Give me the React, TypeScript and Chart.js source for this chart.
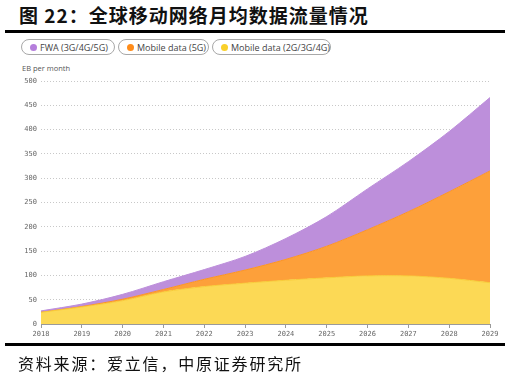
import React, { useEffect, useRef } from "react";
import { Chart, registerables } from "chart.js";

Chart.register(...registerables);

const years = ["2018", "2019", "2020", "2021", "2022", "2023", "2024", "2025", "2026", "2027", "2028", "2029"];
const mobile234 = [24, 35, 48, 66, 77, 84, 90, 95, 99, 99, 94, 85];
const mobile5g = [0, 1, 3, 5, 15, 27, 43, 65, 95, 132, 178, 230];
const fwa = [3, 5, 10, 16, 20, 28, 43, 61, 84, 103, 124, 151];
const yTicks = [0, 50, 100, 150, 200, 250, 300, 350, 400, 450, 500];

const legendItems = [
  { label: "FWA (3G/4G/5G)", color: "#B57EDC", left: 21, width: 94 },
  { label: "Mobile data (5G)", color: "#FF8C1A", left: 118, width: 91 },
  { label: "Mobile data (2G/3G/4G)", color: "#F9D02A", left: 212, width: 119 },
];

export default function App() {
  const ref = useRef<HTMLCanvasElement>(null);
  useEffect(() => {
    if (!ref.current) return;
    const chart = new Chart(ref.current, {
      type: "line",
      data: {
        labels: years,
        datasets: [
          {
            label: "Mobile data (2G/3G/4G)",
            data: mobile234,
            backgroundColor: "#FCD955",
            borderColor: "#F8CC3A",
            borderWidth: 1,
            fill: "origin",
            pointRadius: 0,
            tension: 0.3,
          },
          {
            label: "Mobile data (5G)",
            data: mobile5g,
            backgroundColor: "#FDA03A",
            borderColor: "#FB9426",
            borderWidth: 1,
            fill: "-1",
            pointRadius: 0,
            tension: 0.3,
          },
          {
            label: "FWA (3G/4G/5G)",
            data: fwa,
            backgroundColor: "#BD8FDB",
            borderColor: "#BD8FDB",
            borderWidth: 1,
            fill: "-1",
            pointRadius: 0,
            tension: 0.3,
          },
        ],
      },
      options: {
        animation: false,
        responsive: false,
        maintainAspectRatio: false,
        layout: { padding: { top: 21, right: 21, left: 0, bottom: 0 } },
        plugins: { legend: { display: false }, tooltip: { enabled: false } },
        scales: {
          x: {
            type: "category",
            offset: false,
            grid: { drawOnChartArea: false, drawTicks: true, tickLength: 4, color: "#9a9a9a" },
            border: { color: "#9a9a9a" },
            ticks: {
              font: { family: "DejaVu Sans Mono", size: 7 },
              color: "#666",
              padding: 2,
              maxRotation: 0,
              autoSkip: false,
            },
            afterFit: (s: any) => {
              s.height = 21;
            },
          },
          y: {
            stacked: true,
            min: 0,
            max: 500,
            afterBuildTicks: (s: any) => {
              s.ticks = yTicks.map((v) => ({ value: v }));
            },
            grid: { drawTicks: false, color: "#c8c8c8", lineWidth: 1 },
            border: { display: false, dash: [1, 2] },
            ticks: {
              font: { family: "DejaVu Sans Mono", size: 7 },
              color: "#666",
              padding: 4,
            },
            afterFit: (s: any) => {
              s.width = 41;
            },
          },
        },
      },
    });
    return () => chart.destroy();
  }, []);

  const pills = legendItems.map((it, i) => (
    <div
      key={i}
      style={{
        position: "absolute",
        left: it.left,
        top: 39,
        width: it.width,
        height: 16,
        boxSizing: "border-box",
        border: "1px solid #a8a8a8",
        borderRadius: 8,
        display: "flex",
        alignItems: "center",
        paddingLeft: 8,
        fontFamily: "'Open Sans', Lato, sans-serif",
        fontSize: 9,
        color: "#444",
        whiteSpace: "nowrap",
      }}
    >
      <span
        style={{
          display: "inline-block",
          width: 7,
          height: 7,
          borderRadius: 4,
          background: it.color,
          marginRight: 3,
        }}
      />
      {it.label}
    </div>
  ));

  return (
    <div style={{ position: "absolute", left: 0, top: 0, width: 511, height: 378, background: "#fff", overflow: "hidden" }}>
      <div
        style={{
          position: "absolute",
          left: 19,
          top: 3,
          fontFamily: "'Noto Sans CJK SC', sans-serif",
          fontWeight: 700,
          fontSize: 19,
          letterSpacing: 1,
          color: "#111",
          whiteSpace: "nowrap",
          lineHeight: "24px",
        }}
      >
        图 22：全球移动网络月均数据流量情况
      </div>
      <div style={{ position: "absolute", left: 5, top: 30, width: 500, height: 3, background: "#000" }} />
      {pills}
      <div
        style={{
          position: "absolute",
          left: 22,
          top: 63,
          fontFamily: "'Open Sans', Lato, sans-serif",
          fontSize: 7.5,
          color: "#555",
          whiteSpace: "nowrap",
        }}
      >
        EB per month
      </div>
      <canvas ref={ref} width={511} height={285} style={{ position: "absolute", left: 0, top: 60, width: 511, height: 285 }} />
      <div style={{ position: "absolute", left: 5, top: 343, width: 500, height: 3, background: "#000" }} />
      <div
        style={{
          position: "absolute",
          left: 18,
          top: 352,
          fontFamily: "'Noto Sans CJK SC', serif",
          fontWeight: 400,
          fontSize: 16,
          letterSpacing: 1.8,
          color: "#111",
          whiteSpace: "nowrap",
          lineHeight: "22px",
        }}
      >
        资料来源：爱立信，中原证券研究所
      </div>
    </div>
  );
}
